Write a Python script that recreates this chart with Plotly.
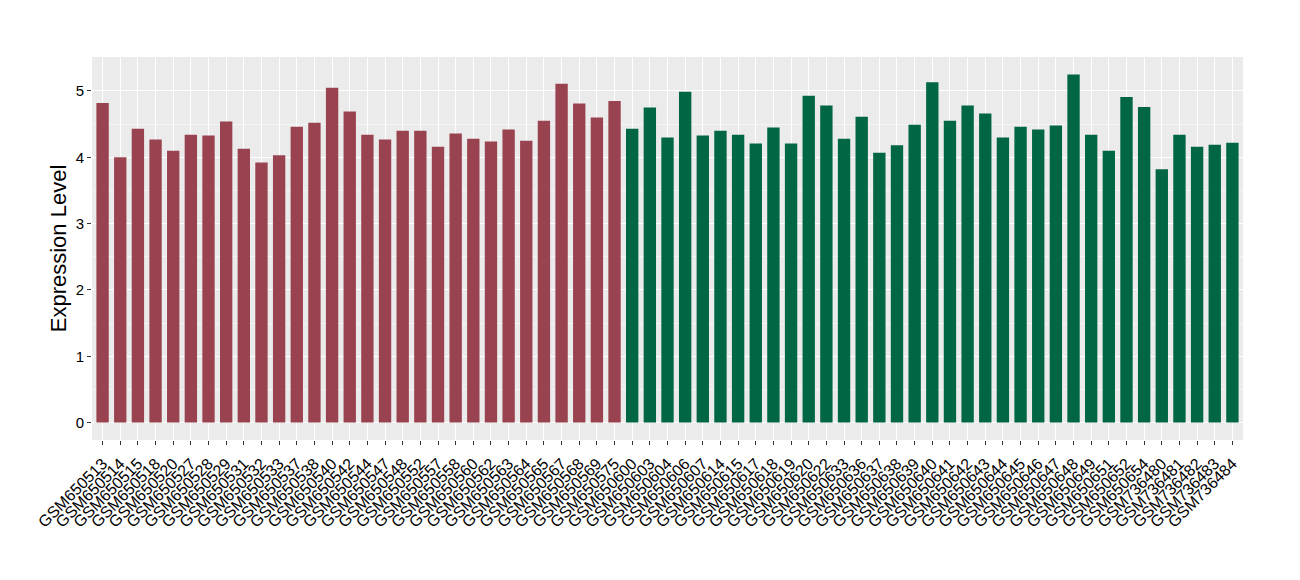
import plotly.graph_objects as go

red_samples = ["GSM650513", "GSM650514", "GSM650515", "GSM650518", "GSM650520", "GSM650527",
               "GSM650528", "GSM650529", "GSM650531", "GSM650532", "GSM650533", "GSM650537",
               "GSM650538", "GSM650540", "GSM650542", "GSM650544", "GSM650547", "GSM650548",
               "GSM650552", "GSM650557", "GSM650558", "GSM650560", "GSM650562", "GSM650563",
               "GSM650564", "GSM650565", "GSM650567", "GSM650568", "GSM650569", "GSM650575"]
red_values = [4.82, 4.00, 4.43, 4.27, 4.10, 4.34, 4.33, 4.54, 4.13, 3.92, 4.03, 4.46,
              4.52, 5.05, 4.69, 4.34, 4.27, 4.40, 4.40, 4.16, 4.36, 4.28, 4.24, 4.42,
              4.25, 4.55, 5.11, 4.81, 4.60, 4.85]

green_samples = ["GSM650600", "GSM650603", "GSM650604", "GSM650606", "GSM650607", "GSM650614",
                 "GSM650615", "GSM650617", "GSM650618", "GSM650619", "GSM650620", "GSM650622",
                 "GSM650633", "GSM650636", "GSM650637", "GSM650638", "GSM650639", "GSM650640",
                 "GSM650641", "GSM650642", "GSM650643", "GSM650644", "GSM650645", "GSM650646",
                 "GSM650647", "GSM650648", "GSM650649", "GSM650651", "GSM650652", "GSM650654",
                 "GSM736480", "GSM736481", "GSM736482", "GSM736483", "GSM736484"]
green_values = [4.43, 4.75, 4.30, 4.99, 4.33, 4.40, 4.34, 4.21, 4.45, 4.21, 4.93, 4.78,
                4.28, 4.61, 4.07, 4.18, 4.49, 5.13, 4.55, 4.78, 4.66, 4.30, 4.46, 4.42,
                4.48, 5.25, 4.34, 4.10, 4.91, 4.76, 3.82, 4.34, 4.16, 4.19, 4.22]

all_samples = red_samples + green_samples

fig = go.Figure()
fig.add_trace(go.Bar(x=red_samples, y=red_values, marker=dict(color="#9A4350", line=dict(width=0)),
                     width=0.7, showlegend=False))
fig.add_trace(go.Bar(x=green_samples, y=green_values, marker=dict(color="#006644", line=dict(width=0)),
                     width=0.7, showlegend=False))

fig.update_layout(
    width=1300, height=580,
    margin=dict(l=84, r=65, t=49, b=148),
    paper_bgcolor="white",
    plot_bgcolor="#EBEBEB",
    font=dict(family="Liberation Sans, Arial, sans-serif", color="black"),
    bargap=0.3,
    xaxis=dict(
        type="category",
        categoryorder="array",
        categoryarray=all_samples,
        tickmode="array",
        tickvals=all_samples,
        ticktext=all_samples,
        range=[-0.6, len(all_samples) - 0.4],
        tickangle=-45,
        tickfont=dict(size=16, color="black"),
        ticklabelstandoff=3,
        showgrid=True, gridcolor="white", gridwidth=1,
        ticks="outside", ticklen=4, tickcolor="#333333",
        zeroline=False,
        automargin=False,
    ),
    yaxis=dict(
        title=dict(text="Expression Level", font=dict(size=22, color="black"), standoff=2),
        range=[-0.2625, 5.5125],
        tickvals=[0, 1, 2, 3, 4, 5],
        tickfont=dict(size=15, color="black"),
        showgrid=True, gridcolor="white", gridwidth=1.3,
        minor=dict(dtick=0.5, tick0=0, showgrid=True, gridcolor="#F5F5F5", gridwidth=0.6),
        ticks="outside", ticklen=4, tickcolor="#333333",
        zeroline=False,
        automargin=False,
    ),
)

fig.write_html("out.html")
